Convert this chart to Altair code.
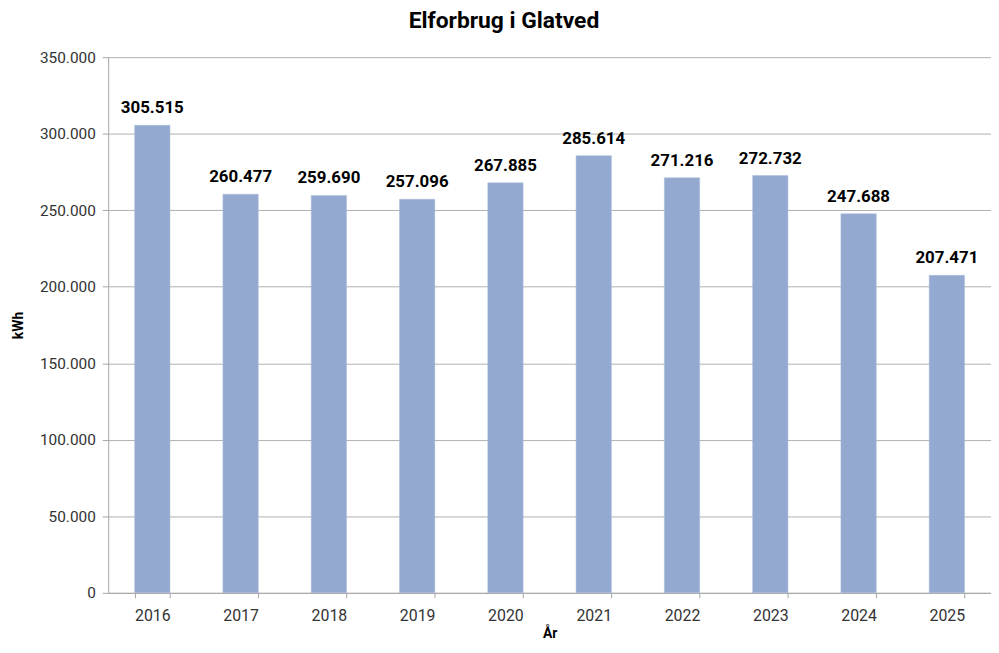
import altair as alt
import pandas as pd

years = ["2016", "2017", "2018", "2019", "2020", "2021", "2022", "2023", "2024", "2025"]
kwh = [305515, 260477, 259690, 257096, 267885, 285614, 271216, 272732, 247688, 207471]

df = pd.DataFrame({"year": years, "kwh": kwh})

FONT = "Roboto"

base = alt.Chart(df)

bars = base.mark_bar(color="#94A9D0", stroke="#A9BADB", strokeWidth=0.5).encode(
    x=alt.X("year:N", title="År", sort=None,
            scale=alt.Scale(paddingInner=0.6, paddingOuter=0.3),
            axis=alt.Axis(labelAngle=0, tickBand="extent", labelFontSize=16,
                          labelColor="#333333", labelFont=FONT, labelPadding=10,
                          titleFont=FONT, titleFontSize=14, titleFontWeight="bold",
                          titleColor="#000000", titlePadding=3,
                          domainColor="#A6A6A6", tickColor="#A6A6A6", tickSize=5,
                          grid=False)),
    y=alt.Y("kwh:Q", title="kWh",
            scale=alt.Scale(domain=[0, 350000], nice=False),
            axis=alt.Axis(values=[0, 50000, 100000, 150000, 200000, 250000, 300000, 350000],
                          format=",.0f", labelFontSize=15.5, labelColor="#333333",
                          labelFont=FONT, labelPadding=7,
                          titleFont=FONT, titleFontSize=14, titleFontWeight="bold",
                          titleColor="#000000", titlePadding=14,
                          domainColor="#A6A6A6", tickColor="#A6A6A6", tickSize=6,
                          gridColor="#B0B0B0", gridWidth=1)),
)

labels = base.mark_text(dy=-17, fontSize=17, fontWeight="bold", font=FONT,
                        color="#000000").encode(
    x=alt.X("year:N", sort=None),
    y=alt.Y("kwh:Q"),
    text=alt.Text("kwh:Q", format=",.0f"),
)

chart = (bars + labels).properties(
    width=890, height=540,
    title=alt.TitleParams("Elforbrug i Glatved", font=FONT, fontSize=23,
                          fontWeight="bold", color="#000000", offset=17, dx=-46),
    autosize=alt.AutoSizeParams(type="none"),
    padding={"left": 101, "top": 47, "right": 0, "bottom": 50},
).configure(
    locale={"number": {"decimal": ",", "thousands": ".", "grouping": [3],
                       "currency": ["", " kr."]}}
).configure_view(stroke=None)

chart.save("out.html", embed_options={"renderer": "svg", "actions": False})
